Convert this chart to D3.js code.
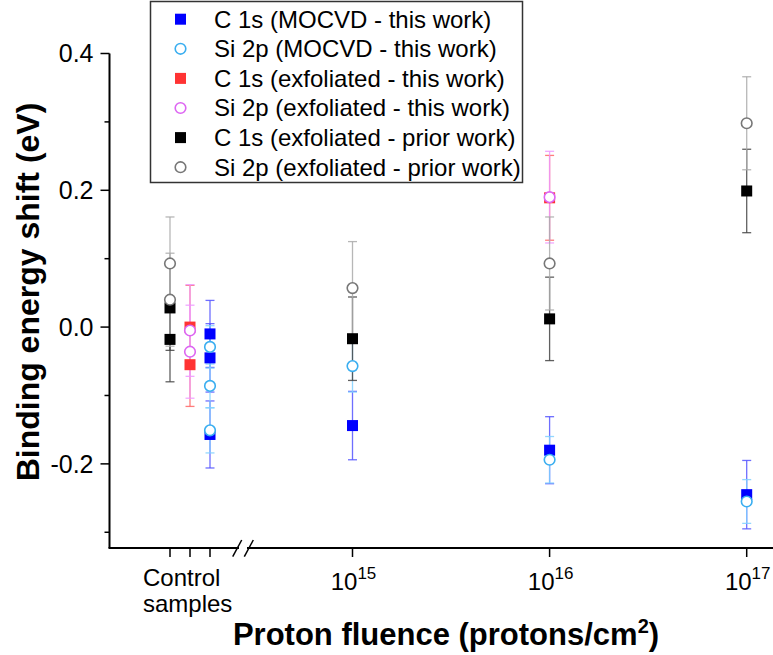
<!DOCTYPE html>
<html><head><meta charset="utf-8">
<script src="https://cdn.jsdelivr.net/npm/d3@7/dist/d3.min.js"></script>
<style>body{margin:0;background:#fff}svg{display:block}text{font-family:Arial,"Liberation Sans",sans-serif}</style>
</head><body><svg id="c" width="773" height="655"></svg>
<script>
// ---------- data ----------
const controlSlots = ["prior", "exfoliated", "MOCVD"];
const fluenceTicks = [1e15, 1e16, 1e17];
const fluenceExponents = ["15", "16", "17"];
const yTicks = [-0.2, 0.0, 0.2, 0.4];
const yMinorTicks = [-0.3, -0.1, 0.1, 0.3];

const c1sMocvdX = ["MOCVD", "MOCVD", "MOCVD", 1e15, 1e16, 1e17];
const c1sMocvdY = [-0.010, -0.045, -0.157, -0.144, -0.180, -0.245];
const c1sMocvdE = [0.049, 0.050, 0.049, 0.050, 0.049, 0.050];

const si2pMocvdX = ["MOCVD", "MOCVD", "MOCVD", 1e15, 1e16, 1e17];
const si2pMocvdY = [-0.029, -0.086, -0.151, -0.057, -0.194, -0.255];
const si2pMocvdE = [0.031, 0.032, 0.033, 0.038, 0.034, 0.032];

const c1sExfX = ["exfoliated", "exfoliated", 1e16];
const c1sExfY = [0.000, -0.055, 0.189];
const c1sExfE = [0.061, 0.061, 0.062];

const si2pExfX = ["exfoliated", "exfoliated", 1e16];
const si2pExfY = [-0.005, -0.036, 0.190];
const si2pExfE = [0.067, 0.068, 0.067];

const c1sPriorX = ["prior", "prior", 1e15, 1e16, 1e17];
const c1sPriorY = [0.028, -0.018, -0.017, 0.012, 0.199];
const c1sPriorE = [0.062, 0.062, 0.061, 0.061, 0.061];

const si2pPriorX = ["prior", "prior", 1e15, 1e16, 1e17];
const si2pPriorY = [0.093, 0.040, 0.057, 0.093, 0.298];
const si2pPriorE = [0.068, 0.068, 0.068, 0.068, 0.068];

const seriesNames = [
  "C 1s (MOCVD - this work)", "Si 2p (MOCVD - this work)",
  "C 1s (exfoliated - this work)", "Si 2p (exfoliated - this work)",
  "C 1s (exfoliated - prior work)", "Si 2p (exfoliated - prior work)"
];
const seriesX = [c1sMocvdX, si2pMocvdX, c1sExfX, si2pExfX, c1sPriorX, si2pPriorX];
const seriesY = [c1sMocvdY, si2pMocvdY, c1sExfY, si2pExfY, c1sPriorY, si2pPriorY];
const seriesE = [c1sMocvdE, si2pMocvdE, c1sExfE, si2pExfE, c1sPriorE, si2pPriorE];
const seriesShape = ["square", "circle", "square", "circle", "square", "circle"];
const seriesColor = ["#0000ff", "#3aaef0", "#ff3333", "#dd66f2", "#000000", "#777777"];
const barColor = ["#5555ff", "#80d0ff", "#ff6666", "#ee99ff", "#444444", "#aaaaaa"];

// ---------- layout ----------
const svg = d3.select("#c");
const axisX0 = 109.5, axisY0 = 548;
const y = d3.scaleLinear().domain([-0.323, 0.4]).range([axisY0, 53.5]);
const xLog = d3.scaleLog().domain([1e15, 1e17]).range([352.5, 746.7]);
const xCtrl = d3.scalePoint().domain(controlSlots).range([170, 210]);
const xPos = v => (typeof v === "string" ? xCtrl(v) : xLog(v));

// ---------- y axis ----------
const gy = svg.append("g").attr("transform", `translate(${axisX0},0)`);
gy.append("line").attr("x1", 0).attr("x2", 0).attr("y1", y(0.4)).attr("y2", axisY0)
  .attr("stroke", "#000").attr("stroke-width", 2);
yTicks.forEach(t => {
  gy.append("line").attr("x1", -9).attr("x2", 0).attr("y1", y(t)).attr("y2", y(t))
    .attr("stroke", "#000").attr("stroke-width", 1.5);
  gy.append("text").attr("x", -16).attr("y", y(t)).attr("dy", "0.35em")
    .attr("text-anchor", "end").attr("font-size", 25).text(d3.format(".1f")(t).replace("−", "-"));
});
yMinorTicks.forEach(t => {
  gy.append("line").attr("x1", -5).attr("x2", 0).attr("y1", y(t)).attr("y2", y(t))
    .attr("stroke", "#000").attr("stroke-width", 1.5);
});

// ---------- x axis (broken) ----------
const gx = svg.append("g");
gx.append("line").attr("x1", axisX0 - 1).attr("x2", 239).attr("y1", axisY0).attr("y2", axisY0)
  .attr("stroke", "#000").attr("stroke-width", 2);
gx.append("line").attr("x1", 247).attr("x2", 773).attr("y1", axisY0).attr("y2", axisY0)
  .attr("stroke", "#000").attr("stroke-width", 2);
[[232.7, 556.7, 241.7, 540], [244.3, 556.7, 253.3, 540]].forEach(s => {
  gx.append("line").attr("x1", s[0]).attr("y1", s[1]).attr("x2", s[2]).attr("y2", s[3])
    .attr("stroke", "#000").attr("stroke-width", 1.5);
});
controlSlots.forEach(c => {
  gx.append("line").attr("x1", xCtrl(c)).attr("x2", xCtrl(c)).attr("y1", axisY0).attr("y2", axisY0 + 9)
    .attr("stroke", "#000").attr("stroke-width", 1.5);
});
fluenceTicks.forEach((f, i) => {
  const px = xLog(f);
  gx.append("line").attr("x1", px).attr("x2", px).attr("y1", axisY0).attr("y2", axisY0 + 9)
    .attr("stroke", "#000").attr("stroke-width", 1.5);
  const t = gx.append("text").attr("x", px + 1).attr("y", 590).attr("text-anchor", "middle").attr("font-size", 24);
  t.append("tspan").text("10");
  t.append("tspan").attr("dy", -11).attr("font-size", 17).text(fluenceExponents[i]);
});
gx.append("text").attr("x", 143).attr("y", 586).attr("font-size", 24).text("Control");
gx.append("text").attr("x", 143).attr("y", 612).attr("font-size", 24).text("samples");

// ---------- axis titles ----------
svg.append("text").attr("transform", "translate(39,292) rotate(-90)")
  .attr("text-anchor", "middle").attr("font-size", 32).attr("font-weight", "bold")
  .text("Binding energy shift (eV)");
const xt = svg.append("text").attr("x", 446).attr("y", 645).attr("text-anchor", "middle")
  .attr("font-size", 31).attr("font-weight", "bold");
xt.append("tspan").text("Proton fluence (protons/cm");
xt.append("tspan").attr("dy", -12).attr("font-size", 20).text("2");
xt.append("tspan").attr("dy", 12).text(")");

// ---------- error bars ----------
const cap = 4.5;
const gBars = svg.append("g");
seriesNames.forEach((name, s) => {
  seriesX[s].forEach((xv, i) => {
    const px = xPos(xv), lo = y(seriesY[s][i] - seriesE[s][i]), hi = y(seriesY[s][i] + seriesE[s][i]);
    const g = gBars.append("g").attr("stroke", barColor[s]).attr("stroke-width", 1.3).attr("stroke-opacity", 0.85);
    g.append("line").attr("x1", px).attr("x2", px).attr("y1", lo).attr("y2", hi);
    g.append("line").attr("x1", px - cap).attr("x2", px + cap).attr("y1", lo).attr("y2", lo);
    g.append("line").attr("x1", px - cap).attr("x2", px + cap).attr("y1", hi).attr("y2", hi);
  });
});

// ---------- markers ----------
function marker(g, shape, color, cx, cy) {
  if (shape === "square") {
    g.append("rect").attr("x", cx - 5.5).attr("y", cy - 5.5).attr("width", 11).attr("height", 11)
      .attr("fill", color);
  } else {
    g.append("circle").attr("cx", cx).attr("cy", cy).attr("r", 5.3)
      .attr("fill", "#fff").attr("stroke", color).attr("stroke-width", 1.6);
  }
}
const gMarks = svg.append("g");
seriesNames.forEach((name, s) => {
  seriesX[s].forEach((xv, i) => marker(gMarks, seriesShape[s], seriesColor[s], xPos(xv), y(seriesY[s][i])));
});

// ---------- legend ----------
const lg = svg.append("g");
lg.append("rect").attr("x", 150.5).attr("y", 1.5).attr("width", 372).attr("height", 181)
  .attr("fill", "#fff").attr("stroke", "#333").attr("stroke-width", 1.5);
seriesNames.forEach((name, s) => {
  const cy = 19.2 + s * 29.6;
  marker(lg, seriesShape[s], seriesColor[s], 180.5, cy);
  lg.append("text").attr("x", 214).attr("y", cy).attr("dy", "0.35em").attr("font-size", 24).text(name);
});
</script></body></html>
